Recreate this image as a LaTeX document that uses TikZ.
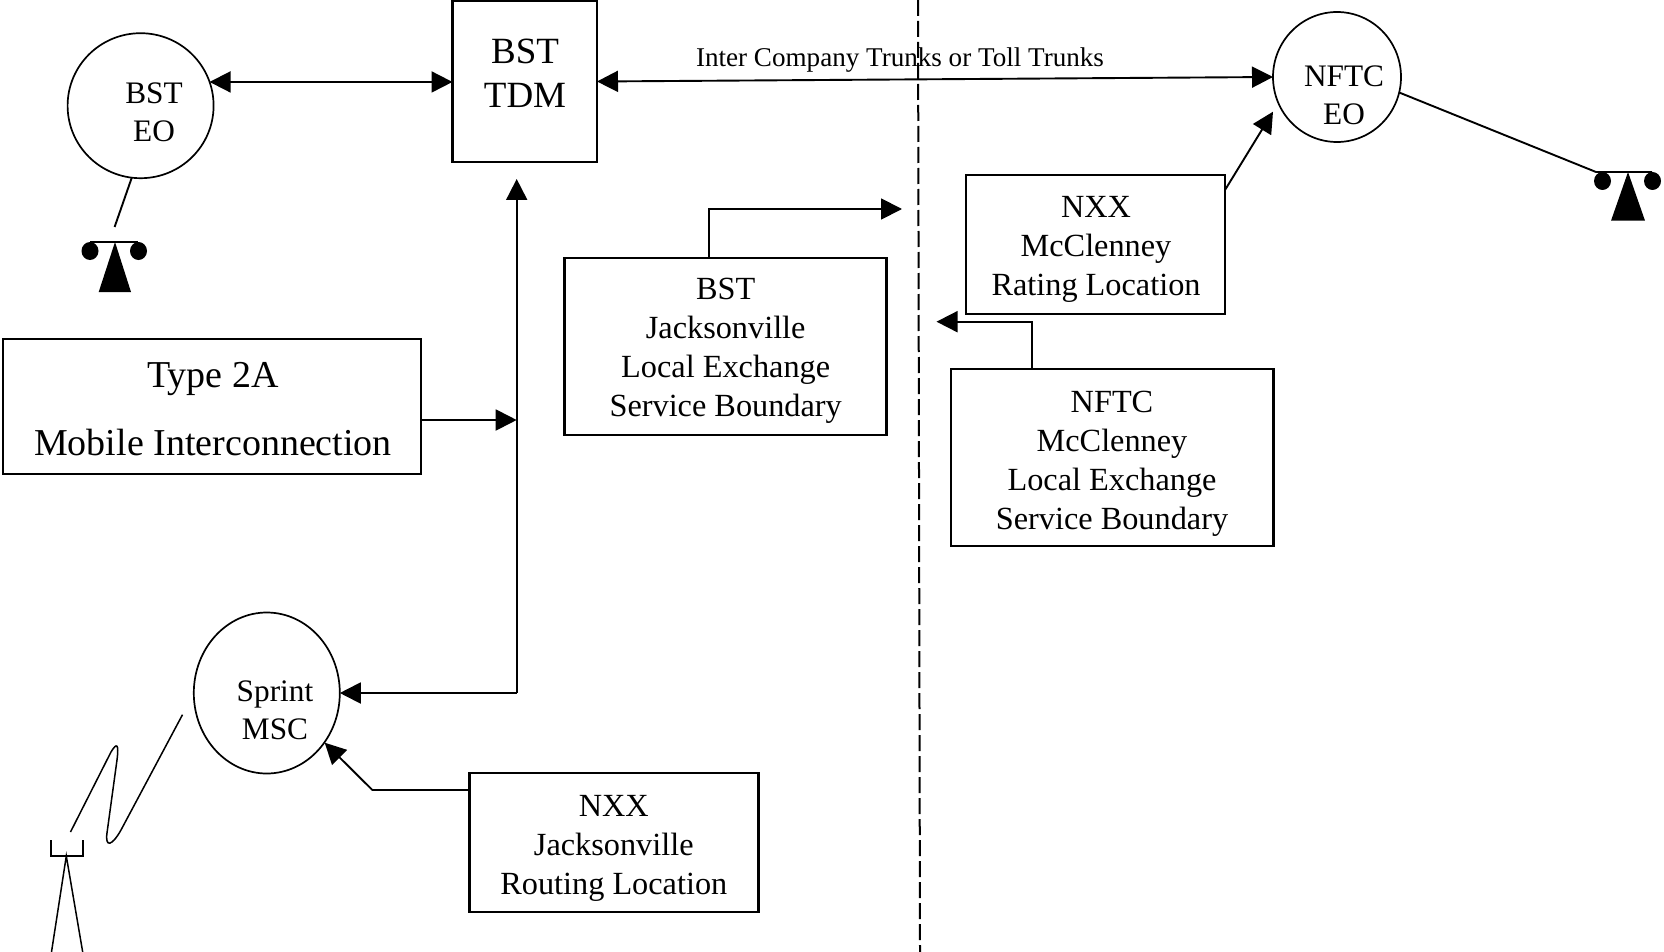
\documentclass[tikz,border=0pt]{standalone}
\usepackage{fontspec}
\setmainfont{Liberation Serif}
\usetikzlibrary{arrows.meta,calc,shapes.geometric}
\tikzset{
  box/.style={draw=black,line width=2.2pt,rectangle,anchor=north west,inner sep=0pt,outer sep=0pt},
  oval/.style={draw=black,line width=1.7pt,ellipse,inner sep=0pt,outer sep=0pt},
  txt/.style={align=center,inner sep=0pt,outer sep=0pt},
  lbl/.style={txt,font=\fontsize{32.3}{39}\selectfont},
  small/.style={txt,font=\fontsize{31.3}{38}\selectfont},
  big/.style={txt,font=\fontsize{37}{44}\selectfont},
  wide/.style={txt,font=\fontsize{38}{68}\selectfont},
  thin/.style={txt,font=\fontsize{27.1}{32}\selectfont},
  conn/.style={draw=black,line width=1.9pt},
  arr/.style={conn,-{Triangle[length=21pt,width=21pt]}},
  darr/.style={conn,{Triangle[length=21pt,width=21pt]}-{Triangle[length=21pt,width=21pt]}},
  blob/.style={fill=black,draw=none,ellipse,inner sep=0pt,outer sep=0pt,minimum width=17pt,minimum height=18pt}
}
\begin{document}
\begin{tikzpicture}[x=1pt,y=-1pt]
\useasboundingbox (0,0) rectangle (1664,952);
% boxes
\node[box,minimum width=144.5pt,minimum height=161pt] (tdm) at (452.5,1) {};
\node[box,minimum width=417.7pt,minimum height=135pt] (type2a) at (3,339) {};
\node[box,minimum width=322pt,minimum height=177.5pt] (bstj) at (564.5,257.7) {};
\node[box,minimum width=259pt,minimum height=139pt] (nxxm) at (966,175) {};
\node[box,minimum width=322.4pt,minimum height=177pt] (nftcm) at (951,369.3) {};
\node[box,minimum width=289pt,minimum height=138.7pt] (nxxj) at (469.5,773.3) {};
% ovals
\node[oval,minimum width=146pt,minimum height=145pt] (bsteo) at (140.6,105.7) {};
\node[oval,minimum width=128pt,minimum height=130pt] (nftceo) at (1337,77) {};
\node[oval,minimum width=146pt,minimum height=161pt] (sprint) at (266.8,693) {};
% texts
\node[big] (ttdm) at (525,73) {BST\\TDM};
\node[small] (tbsteo) at (154,112) {BST\\EO};
\node[small] (tnftceo) at (1344,95) {NFTC\\EO};
\node[small] (tsprint) at (275,710) {Sprint\\MSC};
\node[wide] (ttype) at (213,409.5) {Type 2A\\Mobile Interconnection};
\node[lbl] (tbstj) at (725.7,351) {BST\\Jacksonville\\Local Exchange\\Service Boundary};
\node[lbl] (tnxxm) at (1096,249.5) {NXX\\McClenney\\Rating Location};
\node[lbl] (tnftcm) at (1112,464) {NFTC\\McClenney\\Local Exchange\\Service Boundary};
\node[lbl] (tnxxj) at (613.8,848) {NXX\\Jacksonville\\Routing Location};
\node[thin] (ttrunk) at (900,60) {Inter Company Trunks or Toll Trunks};
% named free ends
\coordinate (dashtop) at (918,0);
\coordinate (dashbot) at (920,952);
\coordinate (junc) at (516.7,420);
\coordinate (corner) at (516.7,693);
\coordinate (vtip) at (516.7,179);
\coordinate (bout) at (709,209);
\coordinate (btip) at (902,209);
\coordinate (nout) at (1032,321.7);
\coordinate (ntip) at (936.5,321.7);
\coordinate (nxxmout) at (1225,190);
\coordinate (nftctip) at (1273,111.7);
\coordinate (jbend) at (372.4,790);
\coordinate (jtip) at (324.7,742.7);
% connectors
\draw[conn,dash pattern=on 16pt off 5pt,line width=2pt] (dashtop) -- (dashbot);
\draw[darr] (bsteo.19) -- (bsteo.19 -| tdm.west);
\draw[darr] (tdm.east) -- (nftceo.west);
\draw[arr] (junc -| type2a.east) -- (junc);
\draw[arr] (corner) -- (vtip);
\draw[arr] (corner) -- (sprint.east);
\draw[arr] (bout |- bstj.north) -- (bout) -- (btip);
\draw[arr] (nout |- nftcm.north) -- (nout) -- (ntip);
\draw[arr] (nxxmout) -- (nftctip);
\draw[arr] (jbend -| nxxj.west) -- (jbend) -- (jtip);
% left telephone
\coordinate (lph) at (115,242);
\coordinate (lphline) at (114.6,227);
\coordinate (lbar1) at (90,242);
\coordinate (lbar2) at (138,242);
\draw[conn] (bsteo.263) -- (lphline);
\draw[conn] (lbar1) -- (lbar2);
\fill (lph) -- (131,292) -- (98.7,292) -- cycle;
\node[blob] (lb1) at (90,251) {};
\node[blob] (lb2) at (138.5,251) {};
% right telephone
\coordinate (rph) at (1628,172);
\coordinate (rbar1) at (1596,172);
\coordinate (rbar2) at (1652,172);
\draw[conn] (nftceo.-14) -- (rbar1) -- (rbar2);
\fill (rph) -- (1645,220.7) -- (1611,220.7) -- cycle;
\node[blob] (rb1) at (1602.5,181) {};
\node[blob] (rb2) at (1652.5,181) {};
% radio link and mast
\coordinate (z1) at (182.5,714.7);
\coordinate (z4) at (70.5,832);
\coordinate (ma) at (66.3,856);
\coordinate (mu1) at (51,840);
\coordinate (mu2) at (83,840);
\coordinate (mu3) at (83,856);
\coordinate (mu4) at (51,856);
\coordinate (ml) at (51.5,952);
\coordinate (mr) at (82.7,952);
\draw[line width=1.5pt] (z1) -- (121,830) .. controls (112,846) and (105,848) .. (107,833) -- (117,760) .. controls (119,744) and (117,742) .. (111,752) -- (z4);
\draw[line width=1.5pt] (mu1) -- (mu4) -- (mu3) -- (mu2);
\draw[line width=1.5pt] (ml) -- (ma) -- (mr);
\end{tikzpicture}
\end{document}
